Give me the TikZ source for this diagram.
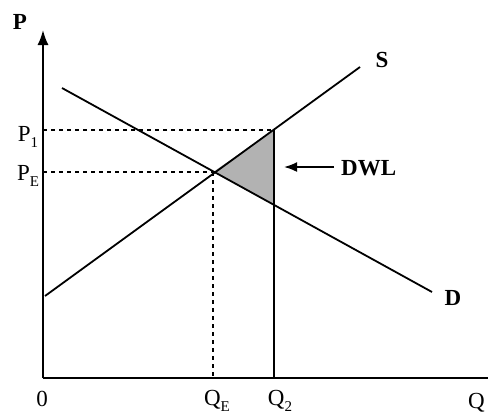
\documentclass[tikz,border=0pt]{standalone}
\usepackage{fontspec}
\setmainfont{Liberation Serif}
\usetikzlibrary{arrows.meta}
\newcommand{\sbs}[1]{\raisebox{-0.3em}{\fontsize{15}{15}\selectfont #1}}
\begin{document}
\begin{tikzpicture}[x=1pt,y=-1pt,
  axisline/.style={line width=1.8pt},
  curve/.style={line width=1.8pt},
  guide/.style={line width=1.2pt, dash pattern=on 4pt off 4pt},
  lbl/.style={inner sep=0pt, font=\fontsize{23}{23}\selectfont},
  blbl/.style={inner sep=0pt, font=\fontsize{23}{23}\selectfont\bfseries}]
\useasboundingbox (0,0) rectangle (490,416);
% key points
\coordinate (O) at (43,378);
\coordinate (Ytop) at (43,30);
\coordinate (Xend) at (488,378);
\coordinate (S1) at (45,296);
\coordinate (S2) at (360,67);
\coordinate (D1) at (62,88);
\coordinate (D2) at (432,292);
\coordinate (E) at (213,172);
\coordinate (A) at (274,130);
\coordinate (B) at (274,204);
\coordinate (YP1) at (43,130);
\coordinate (YPE) at (43,172);
\coordinate (XQE) at (213,378);
\coordinate (XQ2) at (274,378);
% DWL triangle
\fill[gray!60] (E) -- (A) -- (B) -- cycle;
% guides
\draw[guide] (YP1) -- (A);
\draw[guide] (YPE) -- (E);
\draw[guide] (E) -- (XQE);
\draw[line width=1.6pt] (A) -- (XQ2);
% axes
\draw[axisline,-{Latex[length=15pt,width=11pt]}] (O) -- (Ytop);
\draw[axisline] (O) -- (Xend);
% curves
\draw[curve] (S1) -- (S2);
\draw[curve] (D1) -- (D2);
% labels
\node[blbl] (lP) at (20,22) {P};
\node[blbl] (lS) at (382,60) {S};
\node[blbl] (lD) at (453,298) {D};
\node[blbl, anchor=west] (lDWL) at (341,168) {DWL};
\coordinate (arrtail) at (334,167);
\coordinate (arrtip) at (284,167);
\draw[line width=1.8pt,-{Latex[length=13pt,width=10pt]}] (arrtail) -- (arrtip);
\node[lbl, anchor=base] (lP1) at (28,141) {P\sbs{1}};
\node[lbl, anchor=base] (lPE) at (28,180) {P\sbs{E}};
\node[lbl, anchor=base] (l0) at (42,406) {0};
\node[lbl, anchor=base] (lQE) at (217,405) {Q\sbs{E}};
\node[lbl, anchor=base] (lQ2) at (280,405) {Q\sbs{2}};
\node[lbl, anchor=base west] (lQ) at (468,408) {Q};
\end{tikzpicture}
\end{document}
